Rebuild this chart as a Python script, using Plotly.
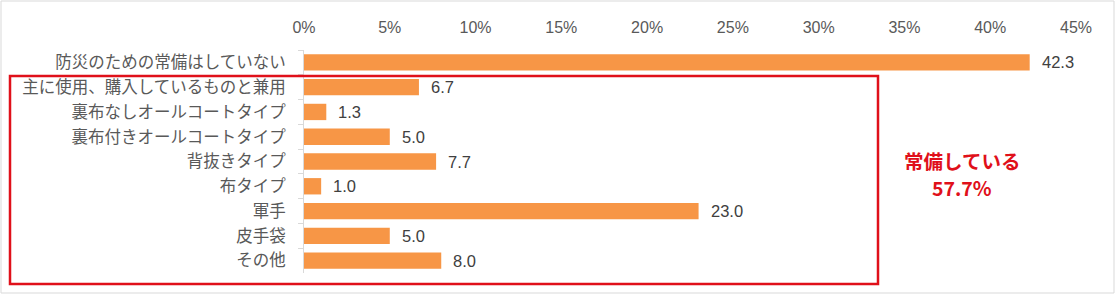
import plotly.graph_objects as go

categories = ["防災のための常備はしていない", "主に使用、購入しているものと兼用", "裏布なしオールコートタイプ",
              "裏布付きオールコートタイプ", "背抜きタイプ", "布タイプ", "軍手", "皮手袋", "その他"]
values = [42.3, 6.7, 1.3, 5.0, 7.7, 1.0, 23.0, 5.0, 8.0]
x_ticks = [0, 5, 10, 15, 20, 25, 30, 35, 40, 45]
x_tick_labels = [f"{t}%" for t in x_ticks]
callout_lines = ["常備している", "57.7%"]

W, H = 1116, 296
L, R, T, B = 304, 40, 50, 23
pw, ph = W - L - R, H - T - B

def px_x(p):
    return (p - L) / pw

def px_y(p):
    return 1 - (p - T) / ph

NUM_FONT = "Liberation Sans Narrow, Liberation Sans, sans-serif"
RED = "#E0101A"

fig = go.Figure()
fig.add_trace(go.Bar(
    x=values, y=categories, orientation="h",
    marker=dict(color="#F79646", line=dict(width=0)),
    width=0.66, hoverinfo="skip",
))

for c, v in zip(categories, values):
    fig.add_annotation(x=v, y=c, xref="x", yref="y", text=f"{v:.1f}",
                       showarrow=False, xanchor="left", xshift=10,
                       font=dict(family=NUM_FONT, size=16.5, color="#404040"))

# red frame around the "常備している" group
fig.add_shape(type="rect", xref="paper", yref="paper",
              x0=px_x(10), x1=px_x(878), y0=px_y(284), y1=px_y(76),
              line=dict(color=RED, width=2.5))
# outer light border
fig.add_shape(type="rect", xref="paper", yref="paper",
              x0=px_x(1), x1=px_x(1114), y0=px_y(293), y1=px_y(1),
              line=dict(color="#D9D9D9", width=1))

for line_text, ypx in zip(callout_lines, [160, 187]):
    fig.add_annotation(xref="paper", yref="paper", x=px_x(962), y=px_y(ypx),
                       text=line_text, showarrow=False,
                       xanchor="center", yanchor="middle", align="center",
                       font=dict(family="Noto Sans CJK JP", size=19.5, color=RED, weight="bold"))

fig.update_layout(
    width=W, height=H, margin=dict(l=L, r=R, t=T, b=B),
    paper_bgcolor="white", plot_bgcolor="white",
    showlegend=False, bargap=0.3,
    font=dict(family="Noto Sans CJK JP", color="#595959"),
    xaxis=dict(side="top", range=[0, 45], tickvals=x_ticks, ticktext=x_tick_labels,
               showgrid=False, zeroline=False, showline=False, ticks="",
               ticklabelstandoff=13,
               tickfont=dict(family=NUM_FONT, size=16, color="#595959"),
               fixedrange=True),
    yaxis=dict(autorange="reversed", showgrid=False, zeroline=False,
               showline=True, linecolor="#D9D9D9", linewidth=1,
               ticks="outside", ticklen=5, tickcolor="#D9D9D9", tickson="boundaries",
               tickfont=dict(family="Noto Sans CJK JP", size=16.5, color="#595959"),
               ticklabelstandoff=14, fixedrange=True),
)

fig.write_html("out.html")
